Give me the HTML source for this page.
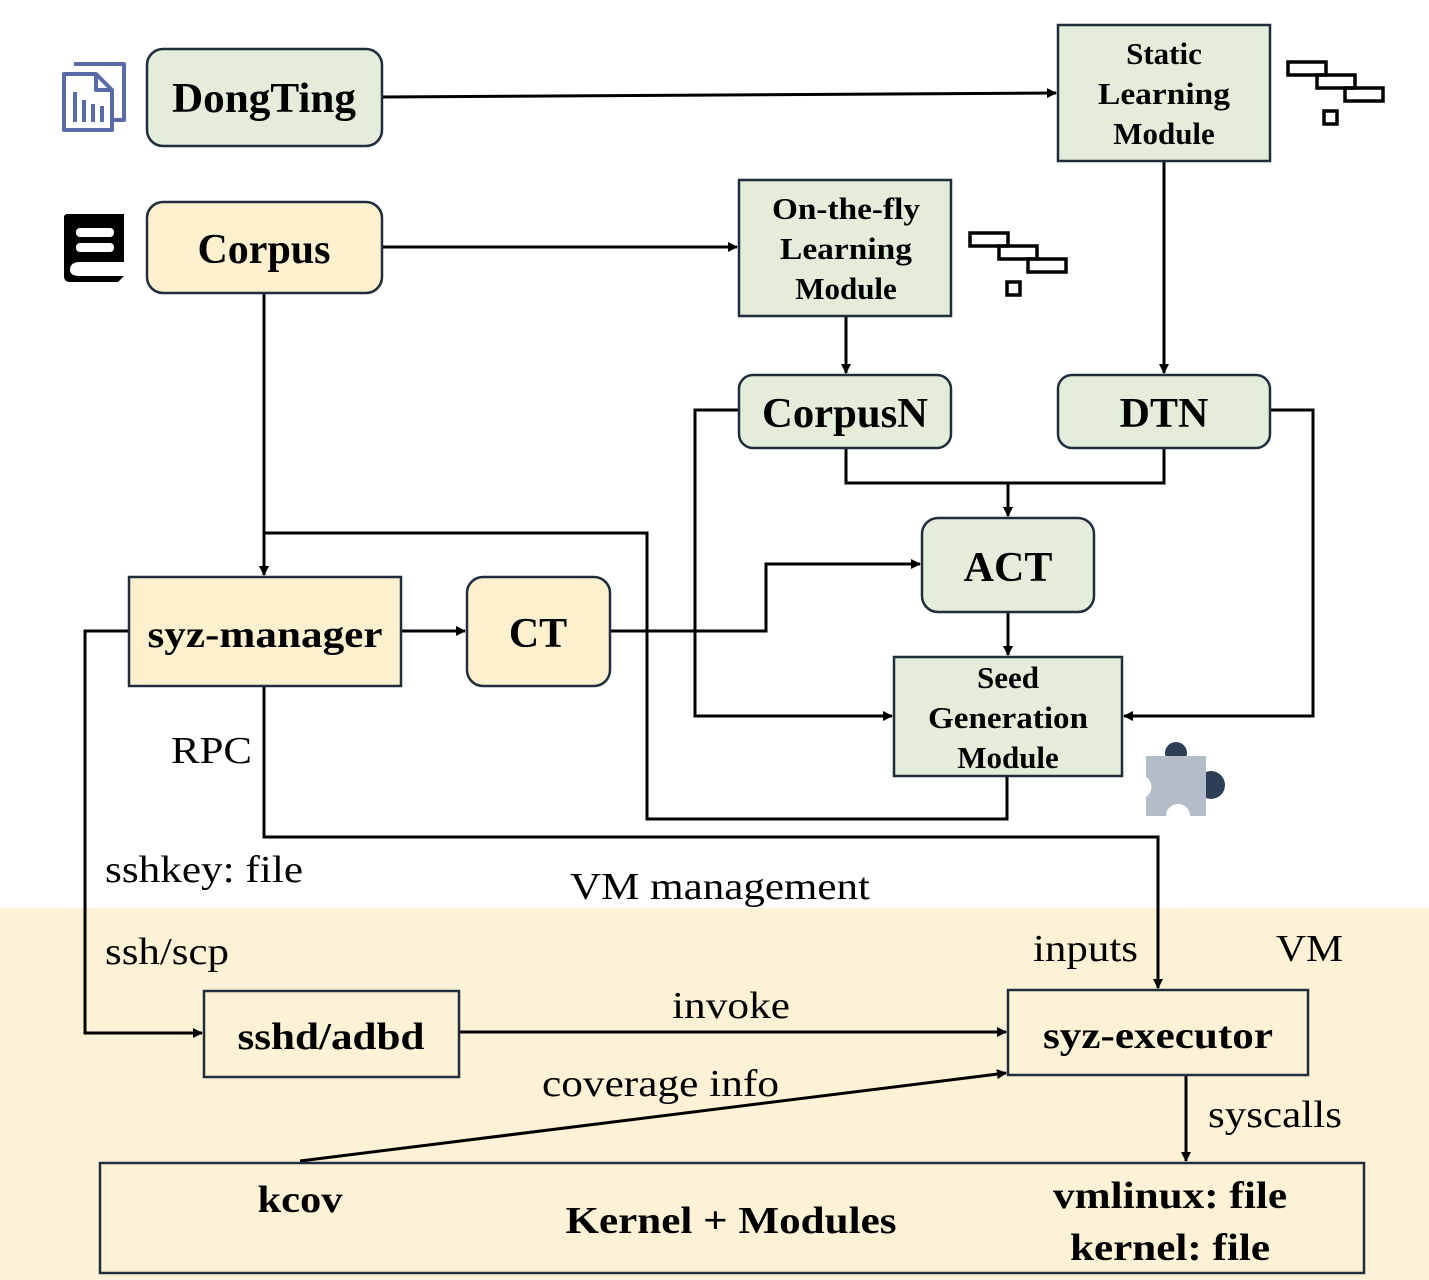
<!DOCTYPE html>
<html><head><style>body{margin:0;background:#fff}svg{display:block}</style></head><body>
<svg width="1429" height="1280" viewBox="0 0 1429 1280" xmlns="http://www.w3.org/2000/svg" font-family="Liberation Serif, serif">
<defs><marker id="a" markerWidth="10" markerHeight="10" refX="9" refY="5" orient="auto" markerUnits="userSpaceOnUse"><path d="M0,0 L10,5 L0,10 z" fill="#000"/></marker></defs>
<rect x="0" y="908" width="1429" height="372" fill="#fdf1d6"/>
<g stroke="#000" stroke-width="3" fill="none">
<line x1="382" y1="97" x2="1056" y2="93" marker-end="url(#a)"/>
<line x1="382" y1="247" x2="737" y2="247" marker-end="url(#a)"/>
<line x1="1164" y1="161" x2="1164" y2="373" marker-end="url(#a)"/>
<line x1="846" y1="316" x2="846" y2="373" marker-end="url(#a)"/>
<polyline points="846,448 846,483 1164,483 1164,448"/>
<line x1="1008" y1="483" x2="1008" y2="516" marker-end="url(#a)"/>
<line x1="264" y1="293" x2="264" y2="575" marker-end="url(#a)"/>
<polyline points="264,533 647,533 647,819 1007,819 1007,776"/>
<line x1="401" y1="631" x2="465" y2="631" marker-end="url(#a)"/>
<polyline points="610,631 766,631 766,564 920,564" marker-end="url(#a)"/>
<line x1="1008" y1="612" x2="1008" y2="655" marker-end="url(#a)"/>
<polyline points="739,410 695,410 695,716 892,716" marker-end="url(#a)"/>
<polyline points="1270,410 1313,410 1313,716 1124,716" marker-end="url(#a)"/>
<polyline points="264,686 264,837 1158,837 1158,988" marker-end="url(#a)"/>
<polyline points="129,631 85,631 85,1033 202,1033" marker-end="url(#a)"/>
<line x1="459" y1="1032" x2="1006" y2="1032" marker-end="url(#a)"/>
<line x1="300" y1="1161" x2="1006" y2="1073" marker-end="url(#a)"/>
<line x1="1186" y1="1075" x2="1186" y2="1161" marker-end="url(#a)"/>
</g>
<g stroke="#1f2d3d" stroke-width="2.5">
<rect x="147" y="49" width="235" height="97" rx="16" fill="#e3edd9"/>
<rect x="1058" y="25" width="212" height="136" fill="#e3edd9"/>
<rect x="147" y="202" width="235" height="91" rx="16" fill="#fdf0cf"/>
<rect x="739" y="180" width="212" height="136" fill="#e3edd9"/>
<rect x="739" y="375" width="212" height="73" rx="14" fill="#e3edd9"/>
<rect x="1058" y="375" width="212" height="73" rx="14" fill="#e3edd9"/>
<rect x="922" y="518" width="172" height="94" rx="16" fill="#e3edd9"/>
<rect x="129" y="577" width="272" height="109" fill="#fdf0cf"/>
<rect x="467" y="577" width="143" height="109" rx="16" fill="#fdf0cf"/>
<rect x="894" y="657" width="228" height="119" fill="#e3edd9"/>
<rect x="204" y="991" width="255" height="86" fill="none"/>
<rect x="1008" y="990" width="300" height="85" fill="none"/>
<rect x="100" y="1163" width="1264" height="110" fill="none"/>
</g>
<g font-weight="bold" text-anchor="middle" fill="#000" lengthAdjust="spacingAndGlyphs">
<text x="264" y="112" font-size="42" textLength="184" lengthAdjust="spacingAndGlyphs">DongTing</text>
<text x="264" y="263" font-size="42">Corpus</text>
<text x="1164" y="64" font-size="31">Static</text>
<text x="1164" y="104" font-size="31" textLength="132" lengthAdjust="spacingAndGlyphs">Learning</text>
<text x="1164" y="144" font-size="31">Module</text>
<text x="846" y="219" font-size="31" textLength="148" lengthAdjust="spacingAndGlyphs">On-the-fly</text>
<text x="846" y="259" font-size="31" textLength="132" lengthAdjust="spacingAndGlyphs">Learning</text>
<text x="846" y="299" font-size="31">Module</text>
<text x="845" y="427" font-size="42" textLength="166" lengthAdjust="spacingAndGlyphs">CorpusN</text>
<text x="1164" y="427" font-size="42">DTN</text>
<text x="1008" y="581" font-size="42">ACT</text>
<text x="265" y="647" font-size="38" textLength="235" lengthAdjust="spacingAndGlyphs">syz-manager</text>
<text x="538" y="647" font-size="42">CT</text>
<text x="1008" y="688" font-size="31">Seed</text>
<text x="1008" y="728" font-size="31" textLength="160" lengthAdjust="spacingAndGlyphs">Generation</text>
<text x="1008" y="768" font-size="31">Module</text>
<text x="331" y="1049" font-size="38" textLength="187" lengthAdjust="spacingAndGlyphs">sshd/adbd</text>
<text x="1158" y="1048" font-size="38" textLength="230" lengthAdjust="spacingAndGlyphs">syz-executor</text>
<text x="300" y="1212" font-size="38" textLength="85" lengthAdjust="spacingAndGlyphs">kcov</text>
<text x="731" y="1233" font-size="38" textLength="331" lengthAdjust="spacingAndGlyphs">Kernel + Modules</text>
<text x="1170" y="1208" font-size="38" textLength="234" lengthAdjust="spacingAndGlyphs">vmlinux: file</text>
<text x="1170" y="1260" font-size="38" textLength="200" lengthAdjust="spacingAndGlyphs">kernel: file</text>
</g>
<g font-size="38" fill="#000">
<text x="171" y="763" textLength="81" lengthAdjust="spacingAndGlyphs">RPC</text>
<text x="105" y="882" textLength="198" lengthAdjust="spacingAndGlyphs">sshkey: file</text>
<text x="570" y="899" textLength="300" lengthAdjust="spacingAndGlyphs">VM management</text>
<text x="105" y="964" textLength="124" lengthAdjust="spacingAndGlyphs">ssh/scp</text>
<text x="1033" y="961" textLength="105" lengthAdjust="spacingAndGlyphs">inputs</text>
<text x="1276" y="961" textLength="67" lengthAdjust="spacingAndGlyphs">VM</text>
<text x="672" y="1018" textLength="118" lengthAdjust="spacingAndGlyphs">invoke</text>
<text x="542" y="1096" textLength="237" lengthAdjust="spacingAndGlyphs">coverage info</text>
<text x="1208" y="1127" textLength="134" lengthAdjust="spacingAndGlyphs">syscalls</text>
</g>
<g fill="none" stroke="#5a6aa8" stroke-width="4" stroke-linejoin="round">
<path d="M74,64 H124 V120 H114"/>
<path d="M64,74 H96 L112,90 V130 H64 Z" fill="#fff"/>
<path d="M96,74 V90 H112"/>
<line x1="75" y1="92" x2="75" y2="122"/><line x1="84" y1="100" x2="84" y2="122"/><line x1="93" y1="104" x2="93" y2="122"/><line x1="102" y1="106" x2="102" y2="122"/>
</g>
<path d="M66,214 H124 V262 H80 Q70,262 70,270 Q70,276 80,276 H124 L118,282 H70 Q64,282 64,276 V216 Z" fill="#000"/>
<rect x="76" y="228" width="38" height="9" rx="4" fill="#fff"/><rect x="76" y="243" width="38" height="9" rx="4" fill="#fff"/>
<g fill="none" stroke="#000" stroke-width="3.5">
<rect x="1288" y="62" width="38" height="13"/><rect x="1317" y="75" width="38" height="13"/><rect x="1345" y="88" width="38" height="13"/><rect x="1324" y="111" width="13" height="13"/>
<rect x="970" y="233" width="38" height="13"/><rect x="999" y="246" width="38" height="13"/><rect x="1028" y="259" width="38" height="13"/><rect x="1007" y="282" width="13" height="13"/>
</g>
<circle cx="1176" cy="753" r="11" fill="#2e3e55"/><circle cx="1211" cy="785" r="14" fill="#2e3e55"/>
<path d="M1146,756 H1206 V816 H1190 A12,12 0 0 0 1166,816 H1146 V797 A12,12 0 0 0 1146,777 Z" fill="#b5bcc9"/>
</svg>
</body></html>
